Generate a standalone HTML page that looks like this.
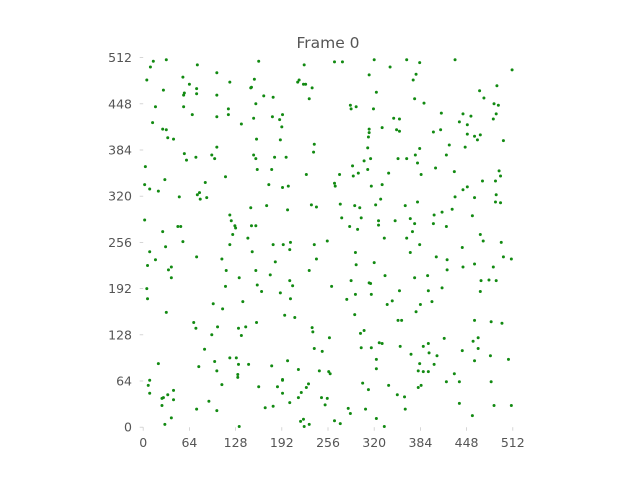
<!DOCTYPE html>
<html><head><meta charset="utf-8"><style>
html,body{margin:0;padding:0;background:#fff;}
svg{display:block;}
text{font-family:"DejaVu Sans","Liberation Sans",sans-serif;fill:#555;}
</style></head><body>
<svg id="chart" width="640" height="480" viewBox="0 0 640 480">
<text x="328" y="48" font-size="15.5" text-anchor="middle">Frame 0</text>
<g id="axes"></g>
<g id="points"></g>
</svg>
<script>
const xTicks = [0, 64, 128, 192, 256, 320, 384, 448, 512];
const yTicks = [0, 64, 128, 192, 256, 320, 384, 448, 512];
const xs = [14,32,10,75,160,223,102,55,5,120,154,64,214,216,222,225,234,28,74,149,150,57,56,74,102,167,180,230,17,56,118,156,68,102,118,153,179,193,189,13,136,192,27,32,34,42,157,190,102,237,236,57,73,60,95,99,153,156,182,198,3,158,178,226,30,114,86,2,9,21,174,193,201,50,75,78,79,88,149,171,200,233,240,120,2,122,48,52,127,128,150,156,27,124,145,
265,276,320,365,432,383,342,313,378,374,511,323,466,490,376,472,389,287,295,288,319,486,492,413,443,454,489,347,355,438,485,313,331,351,355,402,412,449,313,312,449,459,467,463,499,424,446,311,383,377,420,306,315,353,365,380,290,405,272,291,298,311,340,385,431,493,495,265,266,316,331,470,488,443,449,329,432,459,489,273,293,300,322,363,380,488,495,414,428,403,456,275,302,326,349,370,286,297,326,376,402,420,373,467,334,365,
55,120,180,194,204,237,31,9,203,17,74,109,151,183,240,6,39,35,115,156,176,230,39,133,203,207,114,158,5,164,190,6,204,138,97,110,32,196,210,70,157,73,103,132,142,234,235,95,136,85,237,248,120,129,200,21,77,99,132,146,178,215,102,244,9,7,131,131,193,193,229,109,160,186,226,9,42,34,26,28,42,193,219,215,247,26,91,203,74,102,169,180,39,30,133,218,222,230,223,
255,383,442,471,496,294,370,406,421,499,510,295,320,443,459,485,421,335,394,376,288,313,315,468,479,489,261,294,316,355,395,414,467,282,338,345,384,400,378,293,353,358,459,482,497,258,301,306,327,331,417,457,464,302,316,356,388,395,442,464,371,396,407,481,323,459,506,323,383,403,257,259,381,388,395,431,304,312,340,420,438,482,381,385,352,362,255,252,284,287,308,363,438,486,510,265,273,323,456,334];
const ys = [507,509,499,502,507,502,491,485,481,478,482,475,478,481,475,475,470,467,469,470,471,463,460,462,460,459,457,455,444,444,441,448,433,430,433,428,430,433,426,422,420,416,413,412,401,399,399,398,388,392,381,379,374,370,377,372,377,372,374,374,361,357,357,350,343,347,339,336,330,327,336,332,334,319,322,325,316,318,304,307,301,308,305,294,287,286,278,278,279,276,279,279,271,267,262,
506,506,509,509,509,505,499,488,489,481,495,464,466,473,455,456,449,446,444,441,441,448,446,435,434,431,434,428,427,423,427,413,415,412,410,409,412,419,408,402,406,403,405,398,397,391,388,387,386,377,377,369,372,372,372,366,362,359,350,348,352,357,352,350,354,355,348,338,334,334,336,341,341,329,333,316,319,318,322,309,307,304,308,307,312,312,311,298,302,294,293,290,290,286,286,289,278,274,280,282,282,278,271,267,262,262,
257,253,253,253,256,253,250,243,246,232,236,233,243,229,233,224,222,218,217,217,211,217,207,207,203,196,195,197,192,188,186,178,178,174,171,164,159,155,152,145,145,137,139,137,139,138,132,128,127,108,109,105,96,96,92,88,84,91,87,87,85,80,78,78,65,58,73,69,66,65,60,59,56,56,55,47,51,45,40,41,38,47,48,41,41,30,36,34,25,23,27,29,13,4,1,8,11,4,1,
258,253,249,258,256,242,242,236,232,236,233,225,228,222,226,222,218,210,210,207,203,200,199,203,204,203,195,184,184,189,189,193,188,177,170,175,170,174,160,156,148,148,148,146,144,124,130,134,117,116,123,119,124,110,110,112,112,116,106,109,101,103,99,99,94,92,94,81,88,87,77,74,78,77,77,74,61,52,58,63,63,63,55,58,45,42,40,31,26,19,25,25,33,30,30,9,5,12,16,1];

const X0 = 143.2, X1 = 512.8, Y0 = 427.2, Y1 = 57.6;
function sx(v){ return X0 + (v/512)*(X1-X0); }
function sy(v){ return Y0 - (v/512)*(Y0-Y1); }
const NS = "http://www.w3.org/2000/svg";
const axes = document.getElementById('axes');
const pts = document.getElementById('points');

xTicks.forEach(t => {
  const tk = document.createElementNS(NS,'line');
  tk.setAttribute('x1', sx(t)); tk.setAttribute('x2', sx(t));
  tk.setAttribute('y1', Y0); tk.setAttribute('y2', Y0+3.5);
  tk.setAttribute('stroke', '#ccc'); tk.setAttribute('stroke-width', '0.8');
  
  
  axes.appendChild(tk);
  const lb = document.createElementNS(NS,'text');
  lb.setAttribute('x', sx(t)); lb.setAttribute('y', 447);
  lb.setAttribute('font-size', '12.5'); lb.setAttribute('text-anchor', 'middle');
  lb.textContent = t;
  
  
  axes.appendChild(lb);
});
yTicks.forEach(t => {
  const tk = document.createElementNS(NS,'line');
  tk.setAttribute('x1', X0-3.5); tk.setAttribute('x2', X0);
  tk.setAttribute('y1', sy(t)); tk.setAttribute('y2', sy(t));
  tk.setAttribute('stroke', '#ccc'); tk.setAttribute('stroke-width', '0.8');
  
  
  axes.appendChild(tk);
  const lb = document.createElementNS(NS,'text');
  lb.setAttribute('x', 132); lb.setAttribute('y', sy(t)+4.5);
  lb.setAttribute('font-size', '12.5'); lb.setAttribute('text-anchor', 'end');
  lb.textContent = t;
  
  
  axes.appendChild(lb);
});
for (let i = 0; i < xs.length; i++) {
  const c = document.createElementNS(NS,'circle');
  c.setAttribute('cx', sx(xs[i])); c.setAttribute('cy', sy(ys[i]));
  c.setAttribute('r', '1.5'); c.setAttribute('fill', '#128a12');
  
  
  pts.appendChild(c);
}
</script>
</body></html>
